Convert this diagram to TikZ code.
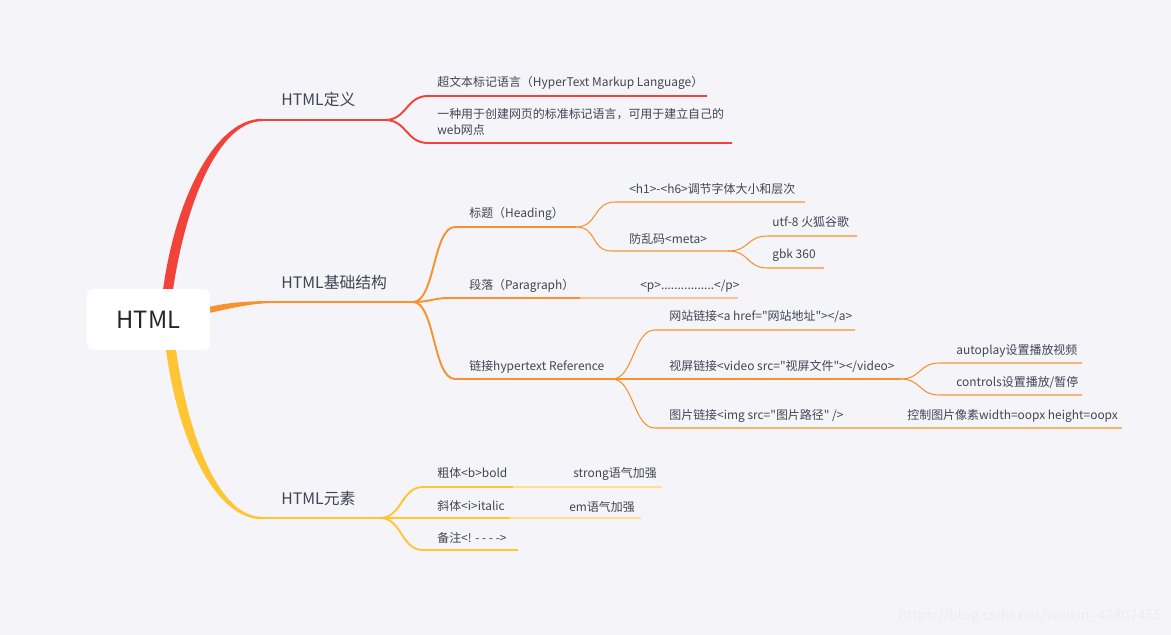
\documentclass[tikz,border=0pt]{standalone}
\usepackage{fontspec}
\setmainfont{Noto Sans CJK SC}[Ligatures=TeXOff]
\usetikzlibrary{calc}

\definecolor{bgcol}{HTML}{F5F5F9}
\definecolor{txtcol}{HTML}{3F4553}
\definecolor{mmred}{HTML}{F2433A}
\definecolor{mmorange}{HTML}{F7922F}
\definecolor{mmorangelt}{HTML}{FAC48E}
\definecolor{mmyellow}{HTML}{FFC535}
\definecolor{mmyellowlt}{HTML}{FFE08E}
\definecolor{wmcol}{HTML}{EDEDF1}

\begin{document}
\begin{tikzpicture}[x=0.02cm, y=-0.02cm,
    rootbox/.style={fill=white, rounded corners=3.5pt, minimum width=2.46cm,
        minimum height=1.22cm, text=black!85, font=\fontsize{13.5}{16}\selectfont},
    toplbl/.style={anchor=west, inner sep=0pt, text=txtcol, font=\fontsize{9}{11}\selectfont},
    lbl/.style={anchor=west, inner sep=0pt, text=txtcol, font=\fontsize{6.8}{9}\selectfont},
    thickln/.style={line width=1.1pt},
    thinln/.style={line width=0.6pt}]
    % --- Definitions ---
    \def\bend{22}   % handle length of the branch curves

    % --- Background ---
    \fill[bgcol] (0,0) rectangle (1171,635);

    % --- Coordinates ---
    \coordinate (redFoot) at (168,290);
    \coordinate (orgFoot) at (204,311);
    \coordinate (yelFoot) at (171,350);
    \coordinate (defStart) at (262,120);
    \coordinate (baseStart) at (275,302);
    \coordinate (elemStart) at (262,518);

    % --- Main branches (tapered) ---
    \fill[mmred] ($(redFoot)+(-5,0)$) .. controls +(12,-90) and +(-47,0) .. ($(defStart)+(0,-1.2)$)
        -- ($(defStart)+(0,1.2)$) .. controls +(-42,0) and +(13,-90) .. ($(redFoot)+(5,0)$) -- cycle;
    \fill[mmorange] ($(orgFoot)+(0,-3)$) .. controls +(25,-6) and +(-25,0) .. ($(baseStart)+(0,-1)$)
        -- ($(baseStart)+(0,1)$) .. controls +(-25,0) and +(25,-5) .. ($(orgFoot)+(0,3)$) -- cycle;
    \fill[mmyellow] ($(yelFoot)+(-5,0)$) .. controls +(12,90) and +(-47,0) .. ($(elemStart)+(0,1.2)$)
        -- ($(elemStart)+(0,-1.2)$) .. controls +(-42,0) and +(13,90) .. ($(yelFoot)+(5,0)$) -- cycle;

    % --- Root ---
    \node[rootbox] (html) at (148.5,319.5) {HTML};

    % --- HTML定义 ---
    \coordinate (redFork) at (385,120);
    \coordinate (defA) at (428,96);   \coordinate (defAend) at (707,96);
    \coordinate (defB) at (428,143);  \coordinate (defBend) at (732,143);
    \draw[mmred, thickln] (defStart) -- (redFork);
    \draw[mmred, thickln] (redFork) .. controls +(\bend,0) and +(-\bend,0) .. (defA) -- (defAend);
    \draw[mmred, thickln] (redFork) .. controls +(\bend,0) and +(-\bend,0) .. (defB) -- (defBend);
    \node[toplbl] (def) at (281,99) {HTML定义};
    \node[lbl] (defAtxt) at (437,83) {超文本标记语言（HyperText Markup Language）};
    \node[lbl, align=left] (defBtxt) at (437,122) {一种用于创建网页的标准标记语言，可用于建立自己的\\web网点};

    % --- HTML基础结构 ---
    \coordinate (orgFork) at (413,302);
    \coordinate (headA) at (455,227);  \coordinate (headFork) at (576,227);
    \coordinate (hsixA) at (615,202);  \coordinate (hsixEnd) at (805,202);
    \coordinate (metaA) at (612,251);  \coordinate (metaFork) at (728,251);
    \coordinate (utfA) at (768,236);   \coordinate (utfEnd) at (857,236);
    \coordinate (gbkA) at (768,268);   \coordinate (gbkEnd) at (824,268);
    \coordinate (paraA) at (450,298);  \coordinate (paraMid) at (580,298);
    \coordinate (paraEnd) at (738,298);
    \coordinate (linkA) at (455,379);  \coordinate (linkFork) at (612,379);
    \coordinate (webA) at (655,330);   \coordinate (webEnd) at (855,330);
    \coordinate (videoFork) at (900,379);
    \coordinate (autoA) at (940,363);  \coordinate (autoEnd) at (1082,363);
    \coordinate (ctrlA) at (940,395);  \coordinate (ctrlEnd) at (1082,395);
    \coordinate (imgA) at (655,428);   \coordinate (imgEnd) at (1122,428);

    \draw[mmorange, thickln] (baseStart) -- (orgFork);
    \draw[mmorange, thickln] (orgFork) .. controls +(\bend,0) and +(-\bend,0) .. (headA) -- (headFork);
    \draw[mmorange, thinln] (headFork) .. controls +(\bend,0) and +(-\bend,0) .. (hsixA) -- (hsixEnd);
    \draw[mmorange, thinln] (headFork) .. controls +(\bend,0) and +(-\bend,0) .. (metaA) -- (metaFork);
    \draw[mmorange, thinln] (metaFork) .. controls +(\bend,0) and +(-\bend,0) .. (utfA) -- (utfEnd);
    \draw[mmorange, thinln] (metaFork) .. controls +(\bend,0) and +(-\bend,0) .. (gbkA) -- (gbkEnd);
    \draw[mmorange, thickln] (orgFork) .. controls +(18,0) and +(-18,0) .. (paraA) -- (paraMid);
    \draw[mmorangelt, thickln] (paraMid) -- (paraEnd);
    \draw[mmorange, thickln] (orgFork) .. controls +(\bend,0) and +(-\bend,0) .. (linkA) -- (linkFork);
    \draw[mmorange, thinln] (linkFork) .. controls +(\bend,0) and +(-\bend,0) .. (webA) -- (webEnd);
    \draw[mmorange, thinln] (linkFork) -- (videoFork);
    \draw[mmorange, thinln] (videoFork) .. controls +(\bend,0) and +(-\bend,0) .. (autoA) -- (autoEnd);
    \draw[mmorange, thinln] (videoFork) .. controls +(\bend,0) and +(-\bend,0) .. (ctrlA) -- (ctrlEnd);
    \draw[mmorange, thinln] (linkFork) .. controls +(\bend,0) and +(-\bend,0) .. (imgA) -- (imgEnd);

    \node[toplbl] (base) at (281,282) {HTML基础结构};
    \node[lbl] (head) at (469,214) {标题（Heading）};
    \node[lbl] (hsix) at (629,189) {<h1>-<h6>调节字体大小和层次};
    \node[lbl] (meta) at (629,239) {防乱码<meta>};
    \node[lbl] (utf) at (772,222) {utf-8 火狐谷歌};
    \node[lbl] (gbk) at (772,255) {gbk 360};
    \node[lbl] (para) at (469,286) {段落（Paragraph）};
    \node[lbl] (ptag) at (640,286) {<p>................</p>};
    \node[lbl] (link) at (469,367) {链接hypertext Reference};
    \node[lbl] (web) at (669,317) {网站链接<a href="网站地址"></a>};
    \node[lbl] (video) at (669,367) {视屏链接<video src="视屏文件"></video>};
    \node[lbl] (auto) at (956,351) {autoplay设置播放视频};
    \node[lbl] (ctrl) at (956,383) {controls设置播放/暂停};
    \node[lbl] (img) at (669,416) {图片链接<img src="图片路径" />};
    \node[lbl] (pix) at (907,416) {控制图片像素width=oopx height=oopx};

    % --- HTML元素 ---
    \coordinate (yelFork) at (380,518);
    \coordinate (boldA) at (423,487);  \coordinate (boldMid) at (513,487);
    \coordinate (boldEnd) at (662,487);
    \coordinate (italicMid) at (510,518);  \coordinate (italicEnd) at (641,518);
    \coordinate (noteA) at (423,550);  \coordinate (noteEnd) at (518,550);
    \draw[mmyellow, thickln] (elemStart) -- (yelFork);
    \draw[mmyellow, thickln] (yelFork) .. controls +(\bend,0) and +(-\bend,0) .. (boldA) -- (boldMid);
    \draw[mmyellowlt, thickln] (boldMid) -- (boldEnd);
    \draw[mmyellow, thickln] (yelFork) -- (italicMid);
    \draw[mmyellowlt, thickln] (italicMid) -- (italicEnd);
    \draw[mmyellow, thickln] (yelFork) .. controls +(\bend,0) and +(-\bend,0) .. (noteA) -- (noteEnd);
    \node[toplbl] (elem) at (281,498) {HTML元素};
    \node[lbl] (bold) at (437,473) {粗体<b>bold};
    \node[lbl] (strong) at (573,474) {strong语气加强};
    \node[lbl] (italic) at (437,506) {斜体<i>italic};
    \node[lbl] (em) at (569,507) {em语气加强};
    \node[lbl] (note) at (437,538) {备注<! - - - ->};

    % --- Watermark ---
    \node[anchor=east, inner sep=0pt, text=wmcol, font=\fontsize{8.2}{10}\selectfont] (mark)
        at (1162,617) {https://blog.csdn.net/weixin\_43807455};
\end{tikzpicture}
\end{document}
